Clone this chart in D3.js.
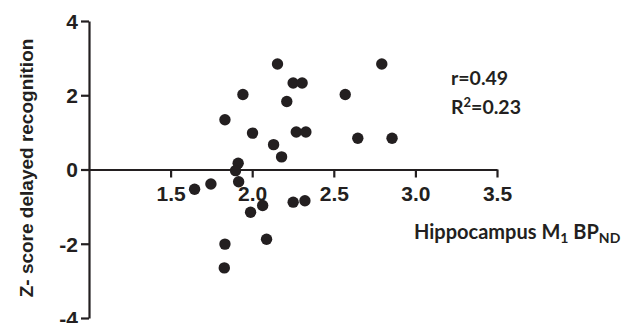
<!DOCTYPE html>
<html>
<head>
<meta charset="utf-8">
<script src="https://cdn.jsdelivr.net/npm/d3@7"></script>
<style>
  body { margin: 0; background: #fff; }
  svg { display: block; }
</style>
</head>
<body>
<div id="chart"></div>
<script>
// hippocampus M1 BPND (x) vs z-score delayed recognition (y)
var bpnd = [2.155, 2.251, 2.306, 1.943, 2.570, 2.794, 2.212, 1.833, 2.002, 2.270,
            2.329, 2.647, 2.857, 2.131, 2.180, 1.914, 1.898, 1.917, 1.647, 1.747,
            2.064, 1.990, 2.251, 2.323, 2.088, 1.833, 1.829];
var zscore = [2.84, 2.33, 2.33, 2.02, 2.02, 2.84, 1.83, 1.34, 0.98, 1.01,
              1.01, 0.84, 0.84, 0.67, 0.34, 0.17, -0.03, -0.33, -0.53, -0.39,
              -0.97, -1.15, -0.88, -0.84, -1.88, -2.01, -2.65];
var xTicks = [1.5, 2.0, 2.5, 3.0, 3.5];
var yTicks = [-4, -2, 0, 2, 4];
var stats = ["r=0.49", "0.23"];

(function () {
    var width = 630, height = 323;
    var ink = "#231f20";

    var svg = d3.select("#chart").append("svg")
        .attr("width", width)
        .attr("height", height);

    var x = d3.scaleLinear().domain([1, 3.5]).range([89, 497]);
    var y = d3.scaleLinear().domain([-4, 4]).range([318, 21]);

    // y axis, plain hyphen for negatives like the original
    var yAxis = svg.append("g")
        .attr("transform", "translate(" + x(1) + ",0)")
        .call(d3.axisLeft(y).tickValues(yTicks).tickSize(8).tickSizeOuter(0).tickPadding(3)
            .tickFormat(function (d) { return String(d); }));

    // x axis crosses at zero
    var xAxis = svg.append("g")
        .attr("transform", "translate(0," + y(0) + ")")
        .call(d3.axisBottom(x).tickValues(xTicks).tickSize(8).tickSizeOuter(0)
            .tickFormat(d3.format(".1f")));

    [yAxis, xAxis].forEach(function (g) {
        g.select(".domain").attr("stroke", ink).attr("stroke-width", 2.2);
        g.selectAll(".tick line").attr("stroke", ink).attr("stroke-width", 2.2);
        g.selectAll(".tick text")
            .attr("fill", ink)
            .style("font-family", "'Liberation Sans', Arial, sans-serif")
            .style("font-weight", "bold")
            .style("font-size", "21px");
    });
    xAxis.selectAll(".tick text").attr("y", 31).attr("dy", 0);
    yAxis.selectAll(".tick text").attr("dy", "0.35em");

    // points
    svg.append("g").selectAll("circle")
        .data(bpnd)
        .enter().append("circle")
        .attr("cx", function (d) { return x(d); })
        .attr("cy", function (d, i) { return y(zscore[i]); })
        .attr("r", 5.7)
        .attr("fill", ink);

    // y title
    svg.append("text")
        .attr("transform", "translate(33," + 168 + ") rotate(-90)")
        .attr("text-anchor", "middle")
        .attr("fill", ink)
        .style("font-family", "'Liberation Sans', Arial, sans-serif")
        .style("font-weight", "bold")
        .style("font-size", "19px")
        .text("Z- score delayed recognition");

    var calib = "Lato, 'Open Sans', sans-serif";

    // x title with subscripts
    var xt = svg.append("text")
        .attr("x", 414)
        .attr("y", 239)
        .attr("fill", ink)
        .style("font-family", calib)
        .style("font-weight", "bold")
        .style("font-size", "20px");
    xt.append("tspan").text("Hippocampus M");
    xt.append("tspan").attr("dy", 4).style("font-size", "14px").text("1");
    xt.append("tspan").attr("dy", -4).text(" BP");
    xt.append("tspan").attr("dy", 4).style("font-size", "14px").text("ND");

    // correlation stats
    svg.append("text")
        .attr("x", 451)
        .attr("y", 85)
        .attr("fill", ink)
        .style("font-family", calib)
        .style("font-weight", "bold")
        .style("font-size", "19.5px")
        .text(stats[0]);

    var r2 = svg.append("text")
        .attr("x", 451)
        .attr("y", 114)
        .attr("fill", ink)
        .style("font-family", calib)
        .style("font-weight", "bold")
        .style("font-size", "19.5px");
    r2.append("tspan").text("R");
    r2.append("tspan").attr("dy", -7).style("font-size", "13px").text("2");
    r2.append("tspan").attr("dy", 7).text("=" + stats[1]);
}());
</script>
</body>
</html>
